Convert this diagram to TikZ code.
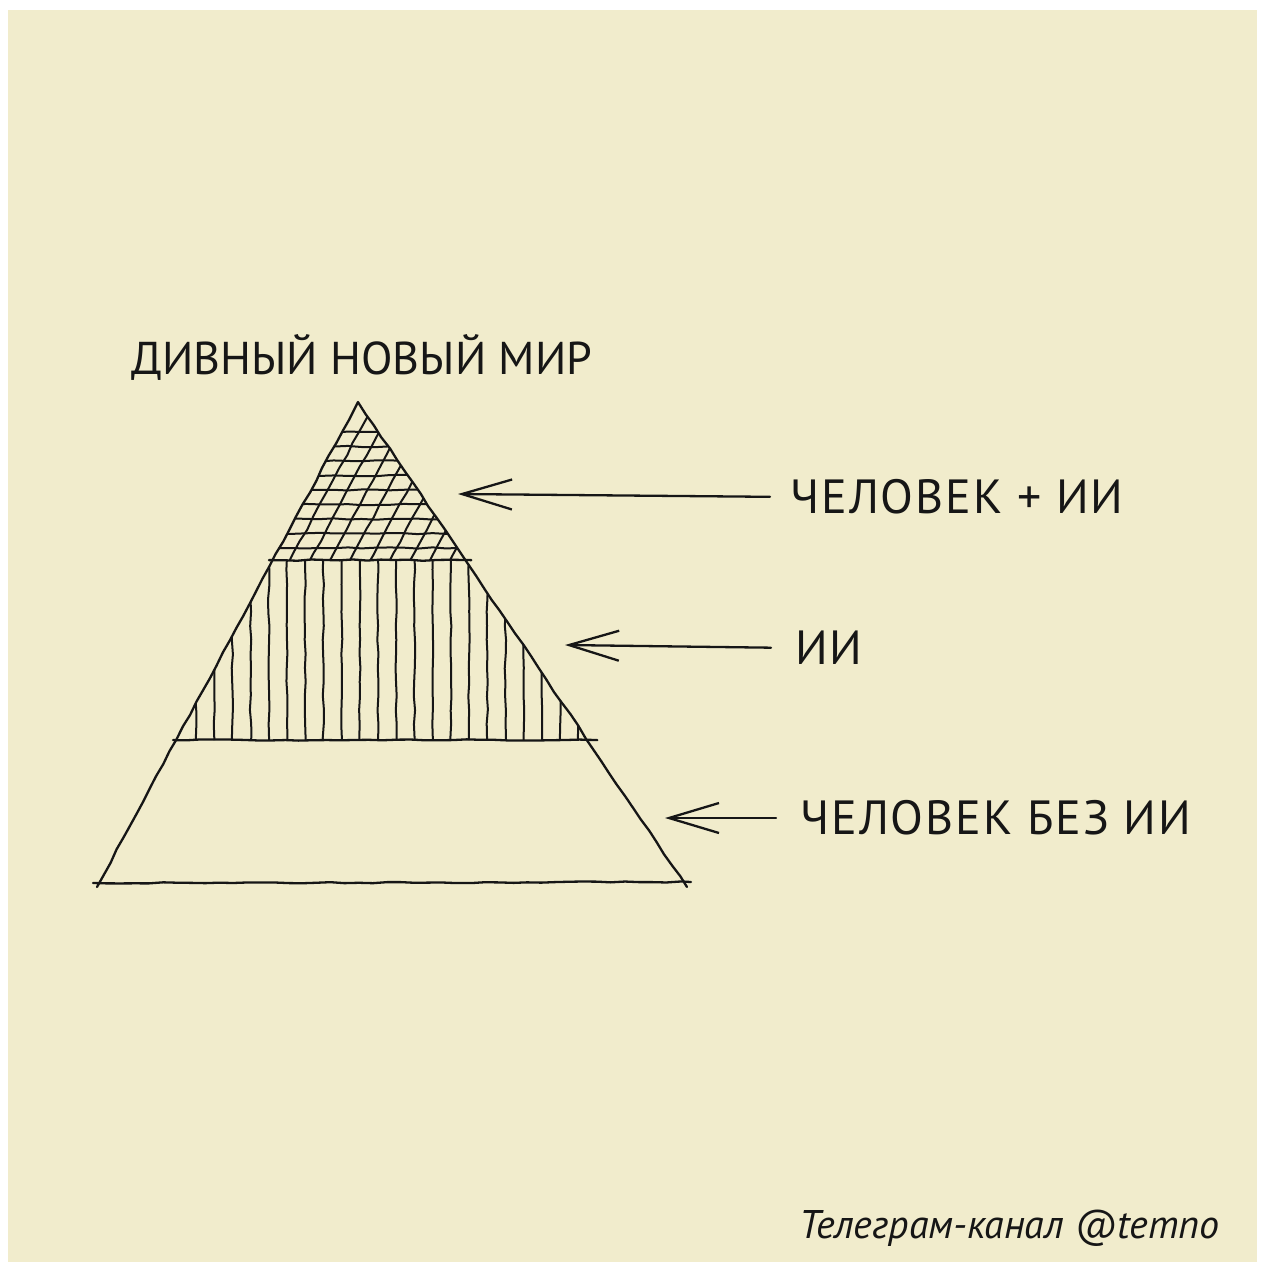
\documentclass[tikz,border=0pt]{standalone}
\usepackage{fontspec}
\setmainfont{PT Sans}
\usetikzlibrary{arrows.meta, decorations.pathmorphing, calc}
\definecolor{papercol}{RGB}{241,236,204}
\definecolor{inkcol}{RGB}{22,22,22}
\tikzset{
  pen/.style={inkcol, line width=1.15pt, line cap=round, line join=round},
  wobbly/.style={decorate, decoration={random steps, segment length=7pt, amplitude=0.35pt}},
  hatch/.style={inkcol, line width=1pt, line cap=round},
  caption/.style={inkcol, font=\fontsize{24}{24}\selectfont\addfontfeature{LetterSpace=4}, inner sep=0pt, anchor=west},
  pointer/.style={pen, -{Straight Barb[length=25pt, width=15pt]}}
}

\begin{document}
\begin{tikzpicture}[
    x=0.5pt, y=-0.5pt
  ]
  \pgfmathsetseed{7}

  % --- paper -------------------------------------------------------------
  \useasboundingbox (0,0) rectangle (1265,1268);
  \fill[white] (0,0) rectangle (1265,1268);
  \fill[papercol] (8,10) rectangle (1257,1262);

  % --- coordinates -------------------------------------------------------
  \coordinate (Apex)  at (358,402);
  \coordinate (BaseL) at (97,887);
  \coordinate (BaseR) at (687,887);
  \coordinate (TopL)  at ($(Apex)!0.326!(BaseL)$);
  \coordinate (TopR)  at ($(Apex)!0.326!(BaseR)$);
  \coordinate (MidL)  at ($(Apex)!0.697!(BaseL)$);
  \coordinate (MidR)  at ($(Apex)!0.697!(BaseR)$);

  % --- top layer, cross-hatched -------------------------------------------
  \begin{scope}
    \clip (Apex) -- (TopL) -- (TopR) -- cycle;
    \foreach \k in {0,...,8}
      \draw[hatch, wobbly] (250,{432+14.5*\k}) -- (490,{432+14.5*\k});
    \foreach \k in {0,...,11}
      \draw[hatch, wobbly] ({267+20*\k},566) -- ++(100,-186);
  \end{scope}

  % --- middle layer, vertical hatching -------------------------------------
  \begin{scope}
    \clip (TopL) -- (TopR) -- (MidR) -- (MidL) -- cycle;
    \foreach \k in {0,...,21}
      \draw[hatch, wobbly] ({196+18.2*\k},556) -- ++(0,190);
  \end{scope}

  % --- pyramid outline ------------------------------------------------------
  \draw[pen, wobbly] (BaseL) -- (Apex) -- (BaseR);
  \draw[pen, wobbly] ($(BaseL)+(-4,-4)$) -- ($(BaseR)+(4,-5)$);
  \draw[pen, wobbly] ($(TopL)+(-4,0)$) -- ($(TopR)+(6,0)$);
  \draw[pen, wobbly] ($(MidL)+(-3,0)$) -- ($(MidR)+(10,0)$);

  % --- title -----------------------------------------------------------------
  \node[caption, anchor=center, font=\fontsize{23}{23}\selectfont] (title) at (362,357) {ДИВНЫЙ НОВЫЙ МИР};

  % --- layer labels with their arrows -----------------------------------------
  \coordinate (TipMix)   at (458,494);
  \coordinate (TipAI)    at (565,645);
  \coordinate (TipHuman) at (665,818);

  \node[caption] (lblMix)   at (790,497) {ЧЕЛОВЕК + ИИ};
  \node[caption] (lblAI)    at (795,648) {ИИ};
  \node[caption] (lblHuman) at (800,818) {ЧЕЛОВЕК БЕЗ ИИ};

  \draw[pointer, shorten <=10pt] (lblMix.west) -- (TipMix);
  \draw[pointer, shorten <=12pt] (lblAI.west) -- (TipAI);
  \draw[pointer, shorten <=12pt] (lblHuman.west) -- (TipHuman);

  % --- channel signature --------------------------------------------------------
  \node[inkcol, font=\itshape\fontsize{20}{20}\selectfont, inner sep=0pt, anchor=base east]
    (channel) at (1220,1238) {Телеграм-канал @temno};

\end{tikzpicture}
\end{document}
